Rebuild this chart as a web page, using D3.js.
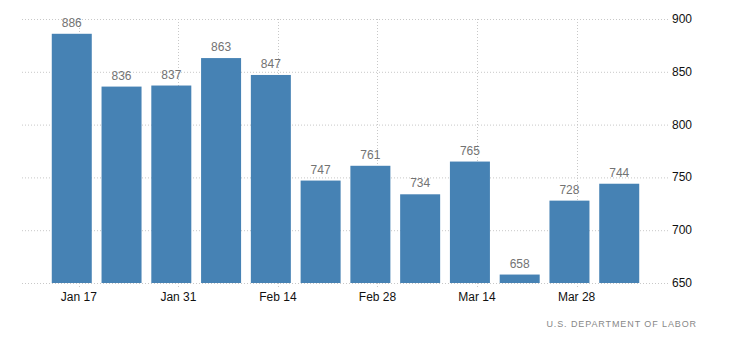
<!DOCTYPE html>
<html><head><meta charset="utf-8">
<script src="https://cdn.jsdelivr.net/npm/d3@7"></script>
<style>body{margin:0;background:#fff}svg{display:block}</style>
</head><body>
<svg id="c" width="730" height="342"></svg>
<script>
const dates = ["2021-01-16","2021-01-23","2021-01-30","2021-02-06","2021-02-13","2021-02-20","2021-02-27","2021-03-06","2021-03-13","2021-03-20","2021-03-27","2021-04-03"];
const values = [886,836,837,863,847,747,761,734,765,658,728,744];
const yTicks = [650,700,750,800,850,900];
const xTickDates = ["2021-01-17","2021-01-31","2021-02-14","2021-02-28","2021-03-14","2021-03-28"];
const source = "U.S. DEPARTMENT OF LABOR";

const parse = d3.utcParse("%Y-%m-%d");
const svg = d3.select("#c");
const font = "'Liberation Sans', Arial, sans-serif";
const x = d3.scaleUtc().domain([parse("2021-01-09"), parse("2021-04-10")]).range([22, 669]);
const y = d3.scaleLinear().domain([650, 900]).range([283, 19]);
const bw = 40;

const grid = svg.append("g").attr("stroke","#c8c8c8").attr("stroke-dasharray","1,2");
grid.selectAll(".h").data(yTicks).join("line")
  .attr("x1",22).attr("x2",669).attr("y1",d=>y(d)+0.5).attr("y2",d=>y(d)+0.5);
grid.selectAll(".v").data(xTickDates).join("line")
  .attr("x1",d=>Math.round(x(parse(d)))+0.5).attr("x2",d=>Math.round(x(parse(d)))+0.5)
  .attr("y1",19).attr("y2",287);

svg.append("g").selectAll("rect").data(values).join("rect")
  .attr("x",(d,i)=>x(parse(dates[i]))-bw/2)
  .attr("width",bw)
  .attr("y",d=>y(d))
  .attr("height",d=>y(650)-y(d))
  .attr("fill","#4682b4");

svg.append("g").selectAll("text").data(values).join("text")
  .attr("x",(d,i)=>x(parse(dates[i])))
  .attr("y",d=>y(d)-7)
  .attr("text-anchor","middle")
  .attr("font-family",font).attr("font-size",12).attr("fill","#737373")
  .text(d=>d);

svg.append("g").selectAll("text").data(yTicks).join("text")
  .attr("x",672).attr("y",d=>y(d)+4)
  .attr("font-family",font).attr("font-size",12).attr("fill","#111")
  .text(d=>d);

const fmt = d3.utcFormat("%b %-d");
svg.append("g").selectAll("text").data(xTickDates).join("text")
  .attr("x",d=>x(parse(d))).attr("y",301)
  .attr("text-anchor","middle")
  .attr("font-family",font).attr("font-size",12).attr("fill","#111")
  .text(d=>fmt(parse(d)));

svg.append("text").attr("x",697).attr("y",327).attr("text-anchor","end")
  .attr("font-family",font).attr("font-size",9).attr("fill","#888")
  .attr("letter-spacing","0.9px").text(source);
</script>
</body></html>
